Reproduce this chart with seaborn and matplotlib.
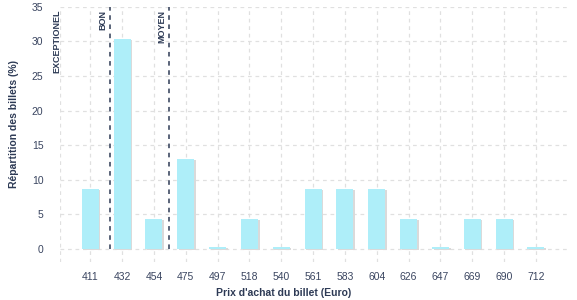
import numpy as np
import pandas as pd
import matplotlib
matplotlib.use("Agg")
import matplotlib.pyplot as plt
import matplotlib.patheffects as pe
import seaborn as sns

# data
prices = ["411", "432", "454", "475", "497", "518", "540", "561",
          "583", "604", "626", "647", "669", "690", "712"]
shares = [8.7, 30.4, 4.35, 13.0, 0.25, 4.35, 0.25, 8.7,
          8.7, 8.7, 4.35, 0.25, 4.35, 4.35, 0.25]
thresholds = [0.62, 2.48]
threshold_labels = ["BON", "MOYEN"]

navy = "#2d3a55"
bar_color = "#aeeef9"
grid_color = "#e0e0e0"

sns.set_theme(style="white")
plt.rcParams["font.family"] = ["Liberation Sans", "DejaVu Sans"]

df = pd.DataFrame({"prix": prices, "part": shares})

fig = plt.figure(figsize=(5.77, 3.0), dpi=100)
ax = fig.add_axes([0.104, 0.127, 0.88, 0.85])

sns.barplot(data=df, x="prix", y="part", order=prices, color=bar_color,
            width=0.53, saturation=1, linewidth=0, ax=ax, zorder=3)
for p in ax.patches:
    p.set_path_effects([pe.SimplePatchShadow(offset=(1.2, -0.8),
                                             shadow_rgbFace="#dadada", alpha=1),
                        pe.Normal()])

ax.set_xlim(-0.95, 15.0)
ax.set_ylim(-1.9, 35)
ax.set_yticks(np.arange(0, 36, 5))

ax.grid(True, axis="both", color=grid_color, linestyle=(0, (3, 3)), linewidth=0.9)
ax.axvline(-0.95, color=grid_color, linestyle=(0, (3, 3)), linewidth=0.9, zorder=0)
for s in ax.spines.values():
    s.set_visible(False)
ax.tick_params(axis="both", length=0, labelsize=7.5, labelcolor="#3a4560")
ax.tick_params(axis="y", pad=12)
ax.tick_params(axis="x", pad=7)

ax.set_xlabel("")
ax.set_ylabel("")
fig.text(0.492, 0.024, "Prix d'achat du billet (Euro)", ha="center", va="center",
         fontsize=7.5, fontweight="bold", color=navy)
fig.text(0.016, 0.585, "Répartition des billets (%)", ha="left", va="center",
         rotation=90, fontsize=7.5, fontweight="bold", color=navy)

for x, lab in zip(thresholds, threshold_labels):
    ax.vlines(x, 0, 35, colors=navy, linestyles=(0, (3, 3)), linewidth=1.1, zorder=4)
    ax.text(x - 0.08, 34.6, lab, rotation=90, ha="right", va="top",
            fontsize=6.5, fontweight="bold", color=navy)
ax.text(-0.92, 34.6, "EXCEPTIONEL", rotation=90, ha="right", va="top",
        fontsize=6.5, fontweight="bold", color=navy, clip_on=False)

fig.savefig("out.png", dpi=100)
